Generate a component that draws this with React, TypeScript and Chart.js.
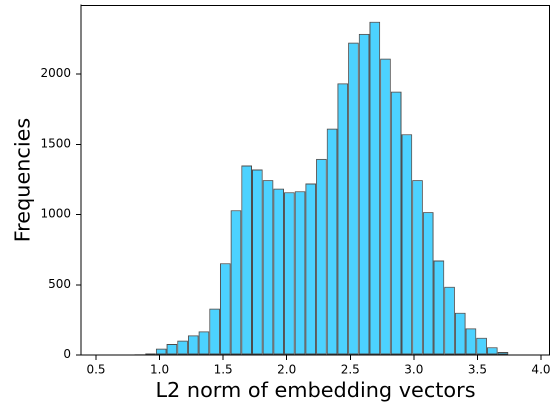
import { useEffect, useRef } from "react";
import { Chart, registerables } from "chart.js";

Chart.register(...registerables);

// Histogram bin centers (40 bins)
const binCenters = [
  0.593, 0.677, 0.761, 0.845, 0.929, 1.013, 1.097, 1.181, 1.265, 1.349,
  1.433, 1.517, 1.601, 1.685, 1.769, 1.853, 1.937, 2.021, 2.105, 2.189,
  2.273, 2.357, 2.441, 2.525, 2.609, 2.693, 2.777, 2.861, 2.945, 3.029,
  3.113, 3.197, 3.281, 3.365, 3.449, 3.533, 3.617, 3.701, 3.785, 3.869,
];

// Counts per bin
const frequencies = [
  1, 0, 1, 5, 12, 45, 78, 102, 140, 168,
  330, 653, 1031, 1349, 1321, 1245, 1185, 1159, 1166, 1221,
  1396, 1612, 1934, 2224, 2286, 2373, 2110, 1875, 1572, 1245,
  1017, 673, 486, 301, 190, 123, 55, 21, 2, 1,
];

const xTickValues = [0.5, 1.0, 1.5, 2.0, 2.5, 3.0, 3.5, 4.0];
const yTickValues = [0, 500, 1000, 1500, 2000];

const xTitle = "L2 norm of embedding vectors";
const yTitle = "Frequencies";

const FONT = "'DejaVu Sans', sans-serif";

const framePlugin = {
  id: "frame",
  afterDraw(chart: any) {
    const { ctx, chartArea } = chart;
    const { left, top, right, bottom } = chartArea;
    ctx.save();
    ctx.strokeStyle = "#000";
    ctx.lineWidth = 1;
    ctx.beginPath();
    ctx.moveTo(left, top + 0.5);
    ctx.lineTo(right, top + 0.5);
    ctx.moveTo(right - 0.5, top);
    ctx.lineTo(right - 0.5, bottom);
    ctx.stroke();
    ctx.restore();
  },
};

export default function App() {
  const canvasRef = useRef<HTMLCanvasElement | null>(null);

  useEffect(() => {
    if (!canvasRef.current) return;
    const chart = new Chart(canvasRef.current, {
      type: "bar",
      data: {
        datasets: [
          {
            data: binCenters.map((x, i) => ({ x, y: frequencies[i] })),
            backgroundColor: "rgba(0,191,255,0.7)",
            borderColor: "rgba(0,0,0,0.7)",
            borderWidth: 1,
            borderSkipped: false,
            barPercentage: 1,
            categoryPercentage: 1,
            inflateAmount: 0,
          } as any,
        ],
      },
      plugins: [framePlugin],
      options: {
        animation: false,
        responsive: false,
        devicePixelRatio: 2,
        layout: { padding: { top: 5, right: 0, left: 0, bottom: 0 } },
        plugins: {
          legend: { display: false },
          tooltip: { enabled: false },
        },
        scales: {
          x: {
            type: "linear",
            min: 0.382,
            max: 4.071,
            offset: false,
            afterBuildTicks(scale: any) {
              scale.ticks = xTickValues.map((v) => ({ value: v }));
            },
            afterFit(scale: any) {
              scale.height = 50;
              scale.paddingLeft = 0;
              scale.paddingRight = 0;
            },
            grid: {
              offset: false,
              drawOnChartArea: false,
              drawTicks: true,
              tickLength: 5,
              color: "#000",
            },
            border: { display: true, color: "#000", width: 1 },
            ticks: {
              color: "#000",
              font: { family: FONT, size: 12 },
              padding: 3.3,
              maxRotation: 0,
              autoSkip: false,
              callback: (v: any) => Number(v).toFixed(1),
            },
            title: {
              display: true,
              text: xTitle,
              color: "#000",
              font: { family: FONT, size: 20.8 },
              padding: { top: 0, bottom: 0.7 },
            },
          },
          y: {
            type: "linear",
            min: 0,
            max: 2492,
            afterBuildTicks(scale: any) {
              scale.ticks = yTickValues.map((v) => ({ value: v }));
            },
            afterFit(scale: any) {
              scale.width = 81;
              scale.paddingTop = 0;
              scale.paddingBottom = 0;
            },
            grid: {
              offset: false,
              drawOnChartArea: false,
              drawTicks: true,
              tickLength: 5,
              color: "#000",
            },
            border: { display: true, color: "#000", width: 1 },
            ticks: {
              color: "#000",
              font: { family: FONT, size: 12 },
              padding: 5,
              autoSkip: false,
              callback: (v: any) => String(v),
            },
            title: {
              display: true,
              text: yTitle,
              color: "#000",
              font: { family: FONT, size: 20.8 },
              padding: { top: 11.5, bottom: 0 },
            },
          },
        },
      },
    });
    return () => chart.destroy();
  }, []);

  return (
    <div
      style={{
        position: "fixed",
        left: 0,
        top: 0,
        width: 550,
        height: 405,
        overflow: "hidden",
        background: "#fff",
      }}
    >
      <canvas
        ref={canvasRef}
        style={{ width: 550, height: 405, display: "block" }}
      />
    </div>
  );
}
